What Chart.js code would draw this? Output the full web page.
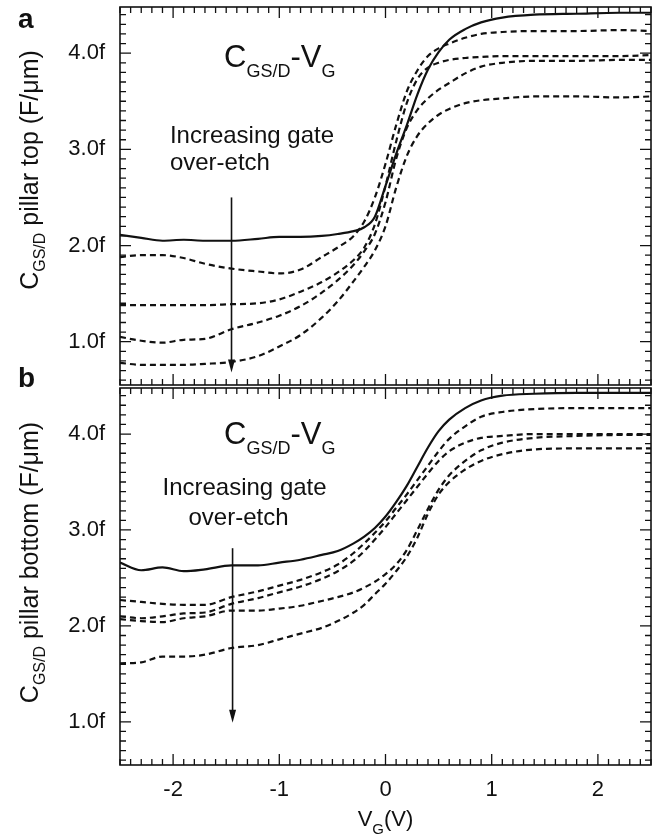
<!DOCTYPE html>
<html><head><meta charset="utf-8">
<script src="https://cdn.jsdelivr.net/npm/chart.js@4/dist/chart.umd.min.js"></script>
<style>
html,body{margin:0;padding:0;background:#fff;}
body{width:661px;height:837px;position:relative;overflow:hidden;}
#wrapA{position:absolute;left:0;top:0;width:661px;height:395px;}
#wrapB{position:absolute;left:0;top:378px;width:661px;height:459px;}
</style></head><body>
<div id="wrapA"><canvas id="chartA"></canvas></div>
<div id="wrapB"><canvas id="chartB"></canvas></div>
<script>
// ---- data ----
const vg = [-2.5,-2.3,-2.1,-1.9,-1.7,-1.45,-1.2,-1.0,-0.8,-0.6,-0.45,-0.3,-0.2,-0.1,0,0.1,0.2,0.3,0.4,0.5,0.6,0.75,0.9,1.1,1.4,1.8,2.2,2.5];
const topSolid = [2.11,2.08,2.05,2.06,2.05,2.05,2.07,2.09,2.09,2.10,2.12,2.15,2.19,2.30,2.62,2.95,3.25,3.57,3.83,4.01,4.14,4.25,4.32,4.37,4.40,4.41,4.42,4.42];
const topDash1 = [1.88,1.90,1.90,1.87,1.81,1.76,1.73,1.71,1.75,1.88,1.98,2.10,2.25,2.50,2.85,3.25,3.60,3.82,3.97,4.05,4.10,4.16,4.20,4.22,4.23,4.23,4.24,4.23];
const topDash2 = [1.38,1.38,1.38,1.38,1.38,1.39,1.40,1.44,1.52,1.62,1.72,1.85,1.98,2.22,2.62,3.08,3.48,3.73,3.85,3.90,3.93,3.95,3.96,3.97,3.97,3.97,3.97,3.98];
const topDash3 = [1.05,1.01,0.99,1.02,1.03,1.13,1.20,1.27,1.37,1.51,1.64,1.80,1.94,2.12,2.45,2.90,3.22,3.41,3.53,3.62,3.69,3.79,3.86,3.90,3.92,3.92,3.93,3.93];
const topDash4 = [0.78,0.76,0.76,0.76,0.77,0.79,0.85,0.95,1.07,1.25,1.42,1.63,1.78,1.95,2.20,2.60,2.93,3.14,3.27,3.36,3.42,3.48,3.51,3.53,3.55,3.55,3.54,3.55];
const botSolid = [2.66,2.58,2.61,2.57,2.59,2.63,2.63,2.66,2.69,2.74,2.78,2.86,2.93,3.02,3.14,3.29,3.46,3.66,3.86,4.03,4.15,4.27,4.35,4.40,4.42,4.43,4.43,4.43];
const botDash1 = [2.27,2.25,2.23,2.22,2.22,2.30,2.36,2.42,2.48,2.56,2.64,2.76,2.86,2.97,3.09,3.23,3.37,3.52,3.67,3.82,3.95,4.08,4.18,4.23,4.26,4.27,4.27,4.27];
const botDash2 = [2.10,2.08,2.10,2.13,2.14,2.23,2.29,2.35,2.41,2.49,2.57,2.68,2.78,2.90,3.03,3.17,3.31,3.45,3.59,3.72,3.82,3.91,3.96,3.98,4.00,4.00,4.00,4.00];
const botDash3 = [2.07,2.05,2.04,2.08,2.10,2.16,2.16,2.18,2.21,2.26,2.30,2.35,2.40,2.46,2.54,2.64,2.79,3.00,3.22,3.42,3.57,3.72,3.83,3.91,3.96,3.98,3.99,3.99];
const botDash4 = [1.61,1.62,1.68,1.68,1.70,1.77,1.80,1.86,1.92,1.98,2.05,2.14,2.22,2.33,2.44,2.57,2.72,2.92,3.17,3.37,3.50,3.63,3.72,3.79,3.84,3.85,3.85,3.85];
const xTickVals = [-2,-1,0,1,2];
const yTickVals = [1,2,3,4];
const xRange = [-2.5, 2.5];
const yRange = [0.55, 4.48];

// ---- style ----
const FONT = "'Liberation Sans', Arial, Helvetica, sans-serif";
Chart.defaults.font.family = FONT;
Chart.defaults.color = '#111';

function pts(ys){ return vg.map((v,i)=>({x:v, y:ys[i]})); }
function ds(ys, dashed){
  return {data: pts(ys), borderColor:'#111', borderWidth: 2.2,
    borderDash: dashed?[6,4]:[], pointRadius:0, fill:false,
    cubicInterpolationMode:'monotone'};
}

function drawParts(ctx, parts, x, y, align){
  let total = 0;
  parts.forEach(p=>{ ctx.font = (p.bold?'bold ':'')+p.size+'px '+FONT; p.w = ctx.measureText(p.t).width; total += p.w; });
  let cx = align==='center' ? x - total/2 : (align==='right'? x-total : x);
  ctx.textBaseline = 'alphabetic'; ctx.textAlign='left';
  parts.forEach(p=>{ ctx.font = (p.bold?'bold ':'')+p.size+'px '+FONT; ctx.fillText(p.t, cx, y + (p.dy||0)); cx += p.w; });
}

function framePlugin(cfg){
  return {
    id:'frame'+cfg.key,
    afterDatasetsDraw(chart){
      const {ctx, chartArea:a, scales:{x, y}} = chart;
      ctx.save();
      ctx.strokeStyle='#111'; ctx.fillStyle='#111';
      ctx.lineWidth=1.6;
      ctx.strokeRect(a.left, a.top, a.right-a.left, a.bottom-a.top);
      ctx.lineWidth=1.3;
      ctx.beginPath();
      for(let i=Math.ceil(x.min*10-1e-6); i<=Math.floor(x.max*10+1e-6); i++){
        const px = x.getPixelForValue(i/10);
        const L = (i%10===0)?11:6;
        ctx.moveTo(px,a.bottom); ctx.lineTo(px,a.bottom-L);
        ctx.moveTo(px,a.top); ctx.lineTo(px,a.top+L);
      }
      for(let j=Math.ceil(y.min*10-1e-6); j<=Math.floor(y.max*10+1e-6); j++){
        const py = y.getPixelForValue(j/10);
        const L = (j%10===0)?11:6;
        ctx.moveTo(a.left,py); ctx.lineTo(a.left+L,py);
        ctx.moveTo(a.right,py); ctx.lineTo(a.right-L,py);
      }
      ctx.stroke();

      // arrow
      const ax = x.getPixelForValue(cfg.arrowX);
      const y1 = y.getPixelForValue(cfg.arrowY[0]);
      const y2 = y.getPixelForValue(cfg.arrowY[1]);
      ctx.lineWidth=1.6;
      ctx.beginPath(); ctx.moveTo(ax,y1); ctx.lineTo(ax,y2-8); ctx.stroke();
      ctx.beginPath(); ctx.moveTo(ax,y2); ctx.lineTo(ax-3.5,y2-13); ctx.lineTo(ax+3.5,y2-13); ctx.closePath(); ctx.fill();

      // panel title C_GS/D - V_G
      const tx = x.getPixelForValue(cfg.titleX), ty = y.getPixelForValue(cfg.titleY);
      drawParts(ctx, [{t:'C',size:31},{t:'GS/D',size:18,dy:10},{t:'-V',size:31},{t:'G',size:18,dy:10}], tx, ty, 'left');

      // annotation
      const nx = x.getPixelForValue(cfg.noteX);
      ctx.font = '24px '+FONT; ctx.textBaseline='alphabetic';
      ctx.textAlign='left';
      ctx.fillText('Increasing gate', nx, y.getPixelForValue(cfg.noteY[0]));
      if(cfg.noteCenter){
        const w = ctx.measureText('Increasing gate').width;
        ctx.textAlign='center';
        ctx.fillText('over-etch', nx + w/2 - 6, y.getPixelForValue(cfg.noteY[1]));
      } else {
        ctx.fillText('over-etch', nx, y.getPixelForValue(cfg.noteY[1]));
      }

      // y-axis title (rotated)
      const cy = (a.top+a.bottom)/2 + cfg.ytOffset;
      ctx.save();
      ctx.translate(38, cy); ctx.rotate(-Math.PI/2);
      drawParts(ctx, [{t:'C',size:25},{t:'GS/D',size:16,dy:7},{t:' pillar '+cfg.word+' (F/\u03BCm)',size:25}], 0, 0, 'center');
      ctx.restore();

      // panel letters
      cfg.letters.forEach(L=>drawParts(ctx, [{t:L.t,size:28,bold:true}], 18, L.y, 'left'));

      if(cfg.xtitle){
        const cxp = x.getPixelForValue(0);
        drawParts(ctx, [{t:'V',size:22},{t:'G',size:15,dy:8},{t:'(V)',size:22}], cxp, a.bottom+61, 'center');
      }
      ctx.restore();
    }
  };
}

function makeChart(id, series, cfg){
  return new Chart(document.getElementById(id), {
    type:'line',
    data:{ datasets: series.map((s,i)=>ds(s, i>0)) },
    options:{
      responsive:true, maintainAspectRatio:false, animation:false, devicePixelRatio:1,
      layout:{padding:{left:0,right:10,top:cfg.padTop,bottom:0}},
      plugins:{legend:{display:false}, tooltip:{enabled:false}},
      scales:{
        x:{type:'linear', min:xRange[0], max:xRange[1],
          grid:{display:false, drawTicks:false}, border:{display:false},
          ticks:{display:cfg.xtitle, padding:12, font:{size:22}, color:'#111',
            callback:v=>String(v)},
          afterBuildTicks:s=>{ s.ticks = xTickVals.map(v=>({value:v})); },
          afterFit:s=>{ s.height = cfg.xHeight; s.paddingLeft = 0; s.paddingRight = 0; }
        },
        y:{type:'linear', min:yRange[0], max:yRange[1],
          grid:{display:false, drawTicks:false}, border:{display:false},
          ticks:{padding:15, font:{size:22}, color:'#111', callback:v=>v.toFixed(1)+'f'},
          afterBuildTicks:s=>{ s.ticks = yTickVals.map(v=>({value:v})); },
          afterFit:s=>{ s.width = 120; s.paddingTop = 0; s.paddingBottom = 0; }
        }
      }
    },
    plugins:[framePlugin(cfg)]
  });
}

makeChart('chartA', [topSolid, topDash1, topDash2, topDash3, topDash4], {
  key:'A', padTop:7, xHeight:10, xtitle:false,
  arrowX:-1.45, arrowY:[2.50,0.68],
  titleX:-1.52, titleY:3.86,
  noteX:-2.03, noteY:[3.07,2.79], noteCenter:false,
  word:'top', ytOffset:-26,
  letters:[{t:'a',y:28},{t:'b',y:387}]
});
makeChart('chartB', [botSolid, botDash1, botDash2, botDash3, botDash4], {
  key:'B', padTop:10, xHeight:72, xtitle:true,
  arrowX:-1.44, arrowY:[2.81,0.99],
  titleX:-1.52, titleY:3.90,
  noteX:-2.1, noteY:[3.36,3.05], noteCenter:true,
  word:'bottom', ytOffset:-14,
  letters:[]
});
</script>
</body></html>
